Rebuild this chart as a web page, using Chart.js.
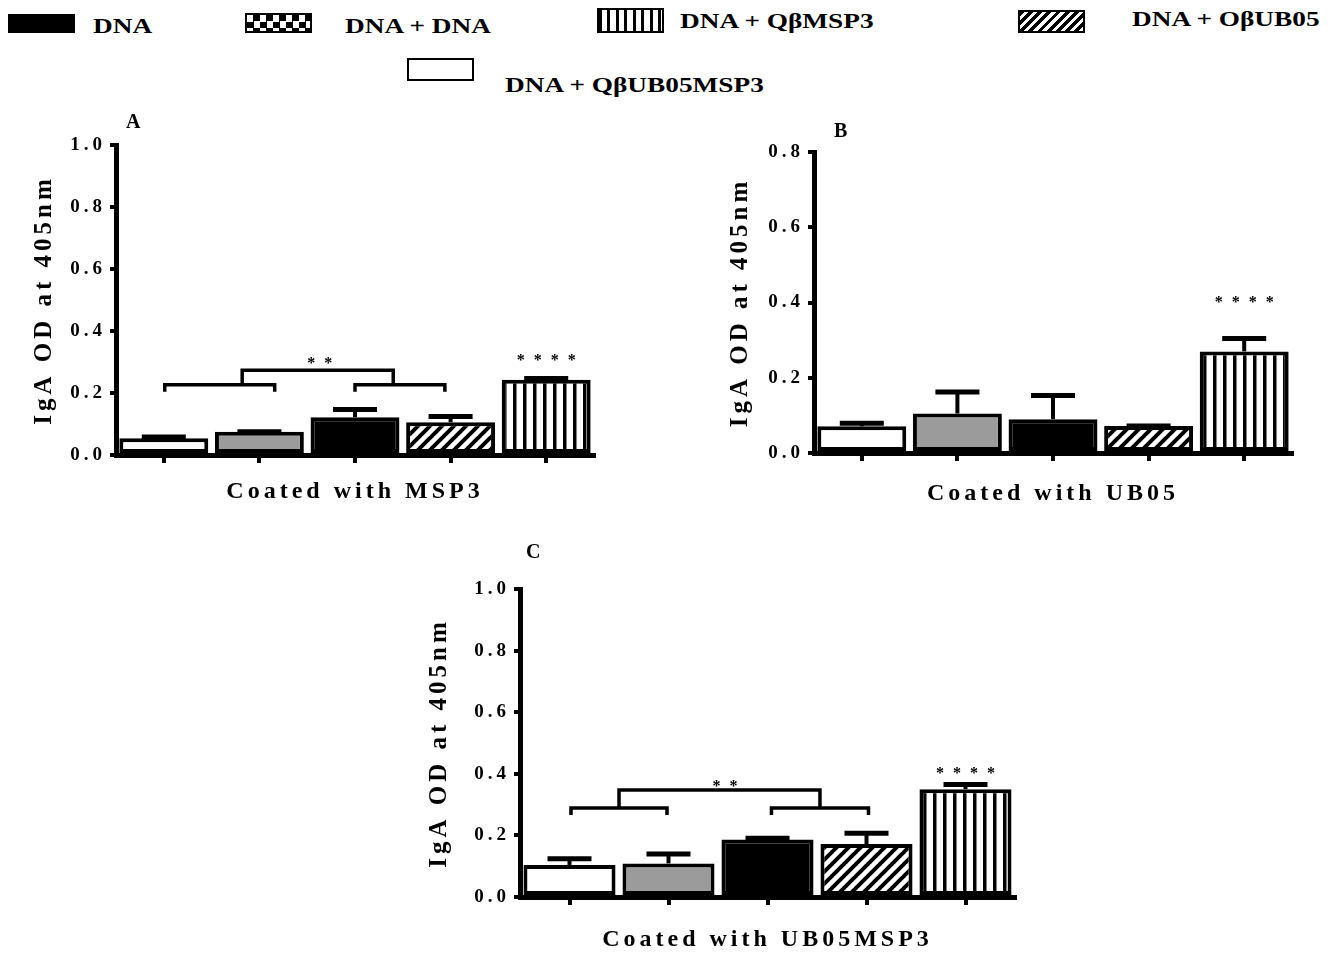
<!DOCTYPE html>
<html lang="en">
  <head>
    <meta charset="UTF-8" />
    <title>IgA OD at 405nm</title>
    <script src="https://cdn.jsdelivr.net/npm/chart.js"></script>
    <style>
      body {
        margin: 0;
        background: #fff;
        font-family: 'Liberation Serif', 'Times New Roman', serif;
      }
      #figure {
        position: relative;
        width: 1334px;
        height: 954px;
      }
      canvas {
        position: absolute;
      }
      .swatch {
        position: absolute;
        box-sizing: border-box;
        border: 2px solid #000;
        width: 67px;
      }
      .key {
        position: absolute;
        font-weight: bold;
        font-size: 22px;
        line-height: 22px;
        white-space: nowrap;
        color: #000;
        transform: scaleX(1.24);
        transform-origin: left center;
      }
      .solid { background: #000; }
      .white { background: #fff; }
      .checker {
        background: conic-gradient(#000 90deg, #fff 90deg 180deg, #000 180deg 270deg, #fff 270deg);
        background-size: 13px 13px;
      }
      .vstripe { background: repeating-linear-gradient(90deg, #000 0 3px, #fff 3px 8.5px); }
      .hatch { background: repeating-linear-gradient(-45deg, #fff 0 3px, #000 3px 6.5px); }
    </style>
  </head>
  <body>
    <div id="figure">
      <canvas id="panelA" width="640" height="420" style="left:0px;top:100px"></canvas>
      <canvas id="panelB" width="634" height="420" style="left:700px;top:100px"></canvas>
      <canvas id="panelC" width="640" height="414" style="left:400px;top:540px"></canvas>
    </div>
    <script>
      // groups in the order the bars are drawn
      const barGroups = ['DNA + QβUB05MSP3', 'DNA + DNA', 'DNA', 'DNA + QβUB05', 'DNA + QβMSP3'];
      const legendLabels = ['DNA', 'DNA + DNA', 'DNA + QβMSP3', 'DNA + OβUB05', 'DNA + QβUB05MSP3'];

      // mean OD and SEM per group
      const msp3Mean = [0.054, 0.075, 0.122, 0.106, 0.243];
      const msp3Sem = [0.004, 0.0, 0.025, 0.018, 0.004];
      const ub05Mean = [0.071, 0.105, 0.09, 0.072, 0.27];
      const ub05Sem = [0.008, 0.057, 0.063, 0.0, 0.034];
      const ub05msp3Mean = [0.104, 0.109, 0.187, 0.172, 0.35];
      const ub05msp3Sem = [0.02, 0.031, 0.004, 0.035, 0.015];

      const yMaxes = [1.0, 0.8, 1.0];
      const xTitles = ['Coated with MSP3', 'Coated with UB05', 'Coated with UB05MSP3'];
      const yTitle = 'IgA OD at 405nm';
      const panelLetters = ['A', 'B', 'C'];

      // significance marks: [category position, OD level, text]
      const marksA = [[1.63, 0.308, '**'], [4, 0.315, '****']];
      const marksB = [[4, 0.41, '****']];
      const marksC = [[1.57, 0.37, '**'], [4, 0.412, '****']];
      // comparison brackets: arm spans (category positions) and levels
      const bracketsA = { arms: [[0.01, 1.16], [2.0, 2.94]], armY: 0.227, join: [0.82, 2.4], joinY: 0.273 };
      const bracketsC = { arms: [[0.015, 0.985], [2.04, 3.02]], armY: 0.289, join: [0.5, 2.53], joinY: 0.347 };

      const SERIF = "'Liberation Serif', 'Times New Roman', serif";

      // legend (html)
      const legendClasses = ['solid', 'checker', 'vstripe', 'hatch', 'white'];
      const legendLayout = [
        [8, 14, 19, 93, 15],
        [245, 13, 20, 345, 15],
        [597, 8, 25, 680, 10],
        [1018, 10, 23, 1132, 8],
        [407, 58, 23, 505, 74],
      ];
      const fig = document.getElementById('figure');
      legendLabels.forEach((lab, i) => {
        const [sx, sy, sh, tx, ty] = legendLayout[i];
        const sw = document.createElement('div');
        sw.className = 'swatch ' + legendClasses[i];
        sw.style.left = sx + 'px';
        sw.style.top = sy + 'px';
        sw.style.height = sh + 'px';
        fig.appendChild(sw);
        const t = document.createElement('div');
        t.className = 'key';
        t.style.left = tx + 'px';
        t.style.top = ty + 'px';
        t.textContent = lab;
        fig.appendChild(t);
      });

      // bar fill patterns
      function hatchPattern() {
        const s = 12;
        const c = document.createElement('canvas');
        c.width = c.height = s;
        const g = c.getContext('2d');
        g.fillStyle = '#fff';
        g.fillRect(0, 0, s, s);
        g.strokeStyle = '#000';
        g.lineWidth = 4;
        g.beginPath();
        for (const k of [0, s, 2 * s]) {
          g.moveTo(k - s - 1, s + 1);
          g.lineTo(k + 1, -1);
        }
        g.stroke();
        return g.createPattern(c, 'repeat');
      }
      function stripePattern() {
        const c = document.createElement('canvas');
        c.width = 10;
        c.height = 4;
        const g = c.getContext('2d');
        g.fillStyle = '#fff';
        g.fillRect(0, 0, 10, 4);
        g.fillStyle = '#000';
        g.fillRect(3, 0, 3.5, 4);
        return g.createPattern(c, 'repeat');
      }
      const fills = ['#fff', '#9b9b9b', '#000', hatchPattern(), stripePattern()];

      const spacing = {
        id: 'spacing',
        beforeDraw(chart) { chart.ctx.letterSpacing = '4px'; },
        afterDraw(chart) { chart.ctx.letterSpacing = '0px'; },
      };

      const errorBars = {
        id: 'errorBars',
        afterDatasetsDraw(chart) {
          const { ctx } = chart;
          const y = chart.scales.y;
          const ds = chart.data.datasets[0];
          const meta = chart.getDatasetMeta(0);
          ctx.save();
          ctx.strokeStyle = '#000';
          meta.data.forEach((bar, i) => {
            const top = y.getPixelForValue(ds.data[i] + ds.sem[i]);
            ctx.lineWidth = 4;
            ctx.beginPath();
            ctx.moveTo(bar.x, bar.y);
            ctx.lineTo(bar.x, top);
            ctx.stroke();
            ctx.lineWidth = 5;
            ctx.beginPath();
            ctx.moveTo(bar.x - 22, top);
            ctx.lineTo(bar.x + 22, top);
            ctx.stroke();
          });
          ctx.restore();
        },
      };

      function annotations(marks, brackets, letter, lx, ly) {
        return {
          id: 'annotations',
          afterDatasetsDraw(chart) {
            const { ctx } = chart;
            const { x, y } = chart.scales;
            ctx.save();
            ctx.strokeStyle = '#000';
            ctx.lineWidth = 3.5;
            if (brackets) {
              const armY = y.getPixelForValue(brackets.armY);
              const joinY = y.getPixelForValue(brackets.joinY);
              brackets.arms.forEach(([a0, a1]) => {
                ctx.beginPath();
                ctx.moveTo(x.getPixelForValue(a0), armY + 7);
                ctx.lineTo(x.getPixelForValue(a0), armY);
                ctx.lineTo(x.getPixelForValue(a1), armY);
                ctx.lineTo(x.getPixelForValue(a1), armY + 7);
                ctx.stroke();
              });
              ctx.beginPath();
              ctx.moveTo(x.getPixelForValue(brackets.join[0]), armY);
              ctx.lineTo(x.getPixelForValue(brackets.join[0]), joinY);
              ctx.lineTo(x.getPixelForValue(brackets.join[1]), joinY);
              ctx.lineTo(x.getPixelForValue(brackets.join[1]), armY);
              ctx.stroke();
            }
            ctx.fillStyle = '#000';
            ctx.font = 'bold 16px ' + SERIF;
            ctx.textAlign = 'center';
            ctx.textBaseline = 'alphabetic';
            ctx.letterSpacing = '9px';
            marks.forEach(([pos, val, txt]) => {
              ctx.fillText(txt, x.getPixelForValue(pos) + 4.5, y.getPixelForValue(val) + 8);
            });
            ctx.restore();
          },
          afterDraw(chart) {
            const { ctx, chartArea } = chart;
            ctx.save();
            ctx.letterSpacing = '0px';
            ctx.fillStyle = '#000';
            ctx.font = 'bold 20px ' + SERIF;
            ctx.textAlign = 'left';
            ctx.textBaseline = 'middle';
            ctx.fillText(letter, chartArea.left + lx, chartArea.top + ly);
            ctx.restore();
          },
        };
      }

      function drawPanel(id, means, sems, idx, marks, brackets, f) {
        new Chart(document.getElementById(id), {
          type: 'bar',
          data: {
            labels: barGroups,
            datasets: [
              {
                data: means,
                sem: sems,
                backgroundColor: fills,
                borderColor: '#000',
                borderWidth: 4,
                borderSkipped: false,
                barPercentage: 0.93,
                categoryPercentage: 1,
              },
            ],
          },
          options: {
            responsive: false,
            animation: false,
            events: [],
            layout: { padding: { top: f.padTop, right: f.padRight, left: 0, bottom: 0 } },
            plugins: { legend: { display: false }, tooltip: { enabled: false } },
            scales: {
              x: {
                grid: { drawOnChartArea: false, offset: false, color: '#000', lineWidth: 4, tickLength: 8 },
                border: { color: '#000', width: 5 },
                ticks: { display: false },
                title: {
                  display: true,
                  text: xTitles[idx],
                  color: '#000',
                  font: { family: SERIF, size: 24, weight: 'bold' },
                  padding: { top: 0, bottom: f.xTitlePad },
                },
                afterFit: (s) => { s.height = f.xHeight; },
              },
              y: {
                min: 0,
                max: yMaxes[idx],
                ticks: {
                  stepSize: 0.2,
                  color: '#000',
                  padding: 4,
                  font: { family: SERIF, size: 19, weight: 'bold' },
                  callback: (v) => v.toFixed(1),
                },
                grid: { drawOnChartArea: false, color: '#000', lineWidth: 4, tickLength: 6 },
                border: { color: '#000', width: 5 },
                title: {
                  display: true,
                  text: yTitle,
                  color: '#000',
                  font: { family: SERIF, size: 25, weight: 'bold' },
                  padding: { top: f.yTitlePad, bottom: 0 },
                },
                afterFit: (s) => { s.width = f.yWidth; },
              },
            },
          },
          plugins: [spacing, errorBars, annotations(marks, brackets, panelLetters[idx], f.lx, f.ly)],
        });
      }

      drawPanel('panelA', msp3Mean, msp3Sem, 0, marksA, bracketsA,
        { padTop: 45, padRight: 46, yWidth: 116, xHeight: 65, xTitlePad: 14, yTitlePad: 30, lx: 10, ly: -22 });
      drawPanel('panelB', ub05Mean, ub05Sem, 1, marksB, null,
        { padTop: 52, padRight: 42, yWidth: 114, xHeight: 67, xTitlePad: 12, yTitlePad: 26, lx: 20, ly: -20 });
      drawPanel('panelC', ub05msp3Mean, ub05msp3Sem, 2, marksC, bracketsC,
        { padTop: 49, padRight: 25, yWidth: 120, xHeight: 57, xTitlePad: 0, yTitlePad: 25, lx: 6, ly: -36 });
    </script>
  </body>
</html>
